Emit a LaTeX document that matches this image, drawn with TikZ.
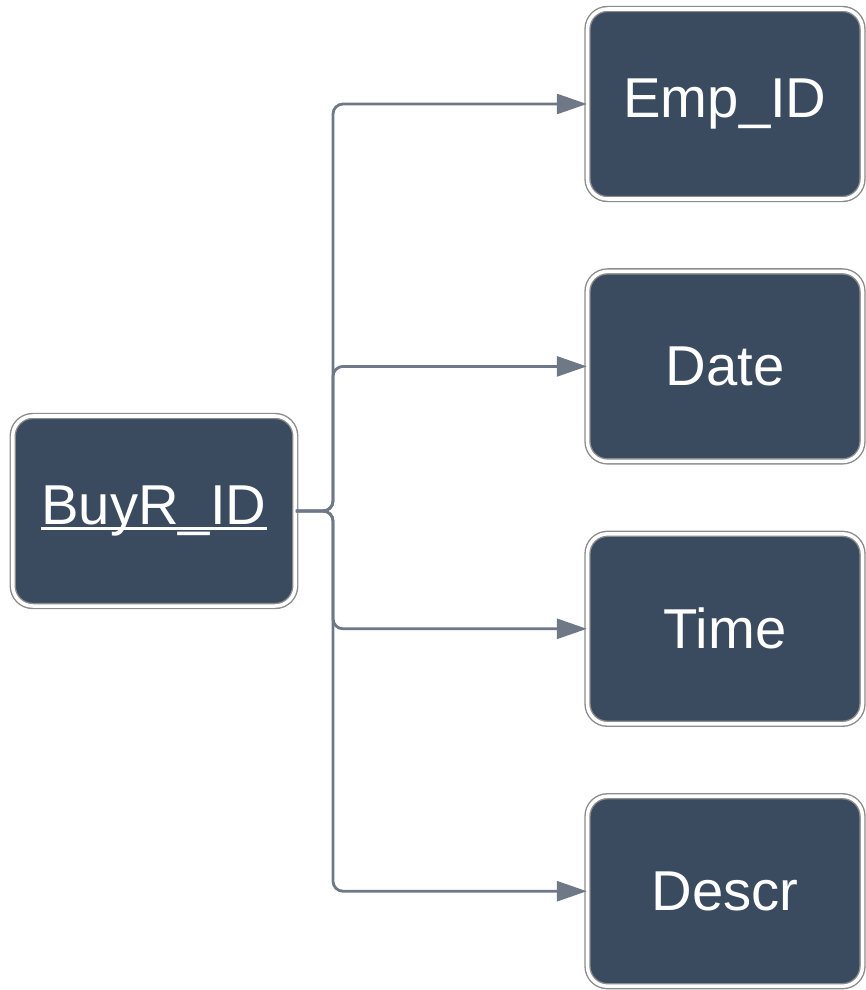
\documentclass[tikz,border=0pt]{standalone}
\usepackage{fontspec}
\setmainfont{Liberation Sans}
\usepackage{xcolor}
\usepackage{tikz}
\usetikzlibrary{arrows.meta, positioning}
\definecolor{navy}{RGB}{58,74,95}
\definecolor{linkgray}{RGB}{110,120,134}
\definecolor{rimgray}{RGB}{140,140,140}
\newcommand{\keyattr}[1]{\setbox0\hbox{#1}\rlap{\rule[-0.1em]{\wd0}{0.06em}}\box0}
\tikzset{
    entity/.style={rectangle, rounded corners=0.4cm, minimum width=5.65cm, minimum height=3.8cm, text centered, draw=rimgray, line width=0.8pt, double=white, double distance=2pt, fill=navy, text=white, font=\fontsize{32}{38}\selectfont},
    attr/.style={entity, minimum width=5.5cm},
    link/.style={-{Triangle[length=0.6cm, width=0.4cm]}, line width=1.6pt, draw=linkgray, rounded corners=0.2cm}
}

\begin{document}
\begin{tikzpicture}[
    node distance=1.42cm
]
    \useasboundingbox (0,0) rectangle (17.32,-19.8);

    % Key entity
    \node[entity] (buyr) at (3.08,-10.22) {\keyattr{BuyR\_ID}};

    % Attributes
    \node[attr] (emp) at (14.5,-2.08) {Emp\_ID};
    \node[attr, below=of emp] (date) {Date};
    \node[attr, below=of date] (time) {Time};
    \node[attr, below=of time] (descr) {Descr};

    % Trunk
    \coordinate (trunk) at (6.66,-10.22);

    % Connectors
    \draw[link] (buyr.east) -| (trunk |- emp.west) -- (emp.west);
    \draw[link] (buyr.east) -| (trunk |- date.west) -- (date.west);
    \draw[link] (buyr.east) -| (trunk |- time.west) -- (time.west);
    \draw[link] (buyr.east) -| (trunk |- descr.west) -- (descr.west);
\end{tikzpicture}
\end{document}
